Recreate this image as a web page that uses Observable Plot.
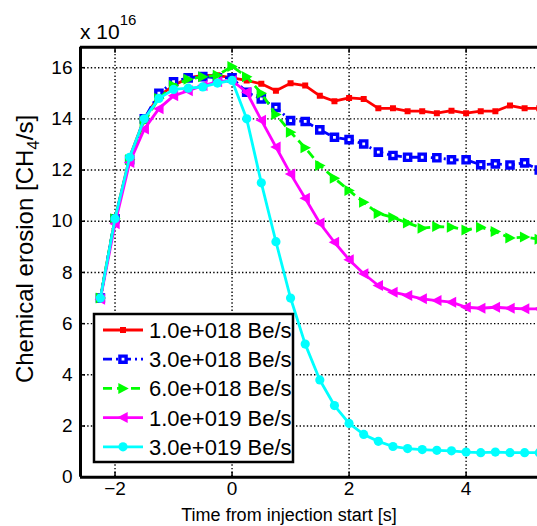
<!DOCTYPE html>
<html><head><meta charset="utf-8">
<script src="https://cdn.jsdelivr.net/npm/d3@7"></script>
<script src="https://cdn.jsdelivr.net/npm/@observablehq/plot@0.6"></script>
<style>body{margin:0;background:#fff;} svg{display:block;}</style>
</head><body><div id="chart"></div>
<script>
// Time from injection start [s]
const time = [-2.25,-2,-1.75,-1.5,-1.25,-1,-0.75,-0.5,-0.25,0,0.25,0.5,0.75,1,1.25,1.5,1.75,2,2.25,2.5,2.75,3,3.25,3.5,3.75,4,4.25,4.5,4.75,5,5.25];
// Chemical erosion [x1e16 CH4/s]
const rate1e18 = [7.0,10.1,12.5,14.0,14.9,15.3,15.6,15.7,15.7,15.6,15.5,15.37,15.1,15.39,15.3,14.9,14.69,14.82,14.78,14.41,14.41,14.3,14.3,14.22,14.32,14.22,14.3,14.3,14.52,14.41,14.41];
const rate3e18 = [7.0,10.1,12.4,14.0,15.0,15.45,15.6,15.65,15.6,15.6,15.04,14.78,14.45,13.93,13.9,13.57,13.28,13.19,13.02,12.7,12.57,12.5,12.5,12.48,12.4,12.4,12.21,12.24,12.2,12.28,12.0];
const rate6e18 = [7.0,10.1,12.4,13.9,14.8,15.3,15.55,15.65,15.7,16.05,15.65,15.0,14.17,13.48,12.87,12.18,11.68,11.2,10.74,10.3,10.15,9.93,9.73,9.79,9.77,9.66,9.77,9.6,9.35,9.38,9.3];
const rate1e19 = [6.95,9.9,12.3,13.6,14.4,14.9,15.1,15.3,15.45,15.5,15.04,13.95,12.9,11.85,10.9,9.93,9.18,8.5,7.95,7.49,7.23,7.1,6.97,6.9,6.84,6.64,6.6,6.64,6.6,6.58,6.58];
const rate3e19 = [7.0,10.1,12.5,14.0,14.8,15.15,15.2,15.25,15.4,15.5,14.0,11.5,9.2,7.0,5.2,3.8,2.8,2.1,1.67,1.4,1.2,1.12,1.08,1.05,1.03,0.98,0.96,0.98,0.96,0.96,0.96];
const seriesNames = ["1.0e+018 Be/s","3.0e+018 Be/s","6.0e+018 Be/s","1.0e+019 Be/s","3.0e+019 Be/s"];
const xTicks = [-2,0,2,4];
const yTicks = [0,2,4,6,8,10,12,14,16];

// custom marker symbols (size = pi r^2)
const rad = s => Math.sqrt(s/Math.PI);
const squareSym = {draw(c,s){const r=rad(s); c.rect(-r,-r,2*r,2*r);}};
const triRight = {draw(c,s){const r=rad(s); c.moveTo(r*1.05,0); c.lineTo(-r*0.85,-r); c.lineTo(-r*0.85,r); c.closePath();}};
const triLeft = {draw(c,s){const r=rad(s); c.moveTo(-r*1.05,0); c.lineTo(r*0.85,-r); c.lineTo(r*0.85,r); c.closePath();}};
const circleSym = {draw(c,s){const r=rad(s); c.moveTo(r,0); c.arc(0,0,r,0,2*Math.PI);}};

const styles = [
  {values: rate1e18, color:"#ff0000", dash:null, symbol:squareSym, r:3, fill:"#ff0000", stroke:"#ff0000", sw:0},
  {values: rate3e18, color:"#0000ff", dash:"9,4,2,4", symbol:squareSym, r:3.1, fill:"#ffffff", stroke:"#0000ff", sw:3.4},
  {values: rate6e18, color:"#00ff00", dash:"9,5", symbol:triRight, r:5.5, fill:"#00ff00", stroke:"#00ff00", sw:0},
  {values: rate1e19, color:"#ff00ff", dash:null, symbol:triLeft, r:5.5, fill:"#ff00ff", stroke:"#ff00ff", sw:0},
  {values: rate3e19, color:"#00ffff", dash:null, symbol:circleSym, r:4.6, fill:"#00ffff", stroke:"#00ffff", sw:0}
];

const xDomain = [-2.59, 5.22], yDomain = [0, 16.8];
const marks = [
  Plot.gridX(xTicks, {stroke:"#000", strokeOpacity:1, strokeWidth:1.4, strokeDasharray:"1.4,2.2"}),
  Plot.gridY(yTicks, {stroke:"#000", strokeOpacity:1, strokeWidth:1.4, strokeDasharray:"1.4,2.2"}),
  Plot.axisX(xTicks, {anchor:"bottom", tickSize:-5, tickPadding:9, fontSize:19, label:null, strokeWidth:1.5}),
  Plot.axisX(xTicks, {anchor:"top", tickSize:-5, tickFormat:()=>"", label:null, strokeWidth:1.5}),
  Plot.axisY(yTicks, {anchor:"left", tickSize:-5, tickPadding:13, fontSize:19, label:null, strokeWidth:1.5}),
];
for (const s of styles) {
  marks.push(Plot.line(time, {x: time, y: s.values, stroke: s.color, strokeWidth: 2.8,
    strokeDasharray: s.dash, strokeLinecap: s.dash ? "butt" : "round", clip: true}));
  marks.push(Plot.dot(time, {x: time, y: s.values, symbol: s.symbol, r: s.r, fill: s.fill,
    stroke: s.stroke, strokeWidth: s.sw, clip: true}));
}
marks.push(Plot.ruleY([yDomain[0], yDomain[1]], {stroke:"#000", strokeWidth:3}));
marks.push(Plot.ruleX([xDomain[0]], {stroke:"#000", strokeWidth:3}));

const chart = Plot.plot({
  width: 537, height: 526,
  marginLeft: 80, marginRight: 0, marginTop: 46.7, marginBottom: 49.3,
  x: {domain: xDomain},
  y: {domain: yDomain},
  style: {fontFamily: "'Liberation Sans', Arial, sans-serif", background: "#fff", color: "#000"},
  marks
});
document.getElementById("chart").append(chart);

const svg = d3.select(chart);
const font = "'Liberation Sans', Arial, sans-serif";
// x 10^16 exponent label
const ex = svg.append("text").attr("x", 80).attr("y", 39).attr("text-anchor","start")
  .attr("font-family", font).attr("font-size", 21).attr("fill","#000");
ex.append("tspan").text("x 10");
ex.append("tspan").attr("font-size", 15).attr("dy", -14).text("16");
// x label
svg.append("text").attr("x", 289).attr("y", 521).attr("text-anchor","middle")
  .attr("font-family", font).attr("font-size", 18).attr("fill","#000").text("Time from injection start [s]");
// y label with subscript
const yl = svg.append("text").attr("transform","translate(33,249) rotate(-90)").attr("text-anchor","middle")
  .attr("font-family", font).attr("font-size", 24).attr("fill","#000");
yl.append("tspan").text("Chemical erosion [CH");
yl.append("tspan").attr("font-size", 17).attr("dy", 6).text("4");
yl.append("tspan").attr("dy", -6).text("/s]");

// legend
const lg = svg.append("g");
lg.append("rect").attr("x",94).attr("y",314).attr("width",199).attr("height",148)
  .attr("fill","#fff").attr("stroke","#000").attr("stroke-width",2.5);
styles.forEach((s,i) => {
  const y = 330 + i*29.2;
  lg.append("line").attr("x1",103).attr("x2",143).attr("y1",y).attr("y2",y)
    .attr("stroke",s.color).attr("stroke-width",2.8).attr("stroke-dasharray", s.dash);
  lg.append("path").attr("transform",`translate(123,${y})`)
    .attr("d", d3.symbol(s.symbol, Math.PI*s.r*s.r)())
    .attr("fill", s.fill).attr("stroke", s.stroke).attr("stroke-width", s.sw);
  lg.append("text").attr("x",149).attr("y",y).attr("dy","0.36em").attr("text-anchor","start")
    .attr("font-family",font).attr("font-size",22).attr("fill","#000").text(seriesNames[i]);
});
</script></body></html>
